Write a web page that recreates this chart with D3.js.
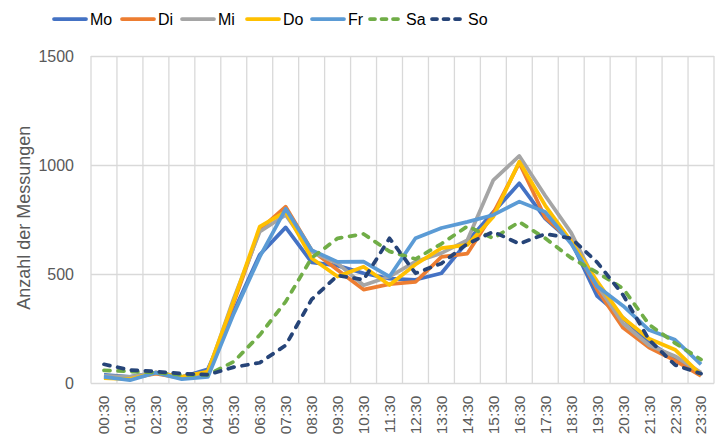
<!DOCTYPE html>
<html>
<head>
<meta charset="utf-8">
<script src="https://cdn.jsdelivr.net/npm/d3@7"></script>
<style>
  body { margin: 0; background: #fff; }
  svg { display: block; font-family: 'Liberation Sans', Arial, sans-serif; }
</style>
</head>
<body>
<svg id="chart"></svg>
<script>
const hours = ['00:30', '01:30', '02:30', '03:30', '04:30', '05:30', '06:30', '07:30', '08:30', '09:30', '10:30', '11:30',
  '12:30', '13:30', '14:30', '15:30', '16:30', '17:30', '18:30', '19:30', '20:30', '21:30', '22:30', '23:30']

const mo = [40, 30, 50, 30, 65, 330, 590, 715, 555, 540, 505, 480, 475, 505, 650, 785, 917, 755, 650, 400, 300, 190, 110, 45]
const di = [30, 25, 45, 25, 50, 370, 705, 810, 611, 520, 430, 455, 465, 580, 595, 780, 1010, 760, 655, 430, 255, 165, 105, 35]
const mi = [35, 30, 50, 30, 50, 390, 695, 772, 603, 550, 450, 490, 558, 597, 657, 932, 1042, 860, 690, 450, 275, 175, 125, 50]
const dO = [25, 20, 50, 30, 55, 380, 718, 787, 574, 490, 535, 451, 545, 620, 635, 764, 1016, 815, 650, 468, 300, 205, 155, 40]
const fr = [30, 15, 50, 20, 30, 320, 580, 800, 611, 557, 558, 490, 665, 712, 740, 772, 833, 785, 640, 445, 355, 245, 200, 88]
const sa = [60, 55, 50, 40, 40, 100, 222, 375, 575, 665, 685, 605, 570, 640, 720, 665, 740, 665, 575, 508, 435, 270, 185, 110]
const so = [88, 62, 55, 45, 40, 75, 95, 175, 385, 495, 475, 665, 505, 550, 640, 695, 640, 685, 665, 555, 405, 200, 85, 45]

const yTicks = [0, 500, 1000, 1500]

const series = [
  { name: 'Mo', values: mo, color: '#4472C4', dash: null },
  { name: 'Di', values: di, color: '#ED7D31', dash: null },
  { name: 'Mi', values: mi, color: '#A5A5A5', dash: null },
  { name: 'Do', values: dO, color: '#FFC000', dash: null },
  { name: 'Fr', values: fr, color: '#5B9BD5', dash: null },
  { name: 'Sa', values: sa, color: '#70AD47', dash: '6,8' },
  { name: 'So', values: so, color: '#264478', dash: '6,8' }
]

// MARGIN CONVENTION
const totalWidth = 716,
  totalHeight = 441,
  margin = { left: 91, top: 56, right: 2, bottom: 57.5 },
  width = totalWidth - margin.left - margin.right,
  height = totalHeight - margin.top - margin.bottom

const svg = d3.select('#chart')
  .attr('width', totalWidth)
  .attr('height', totalHeight)

const x = d3.scaleBand()
  .domain(hours)
  .range([0, width])

const y = d3.scaleLinear()
  .domain([0, 1500])
  .range([height, 0])

const plot = svg.append('g')
  .attr('transform', `translate(${margin.left}, ${margin.top})`)

// GRIDLINES
plot.append('g')
  .selectAll('line')
  .data(yTicks.filter(d => d > 0))
  .enter()
  .append('line')
    .attr('x1', 0)
    .attr('x2', width)
    .attr('y1', d => Math.round(y(d)) + 0.5)
    .attr('y2', d => Math.round(y(d)) + 0.5)
    .style('stroke', '#d9d9d9')
    .style('stroke-width', 1.3)

plot.append('g')
  .selectAll('line')
  .data(hours.concat(['end']))
  .enter()
  .append('line')
    .attr('x1', (d, i) => i * x.step())
    .attr('x2', (d, i) => i * x.step())
    .attr('y1', 0)
    .attr('y2', height)
    .style('stroke', '#d9d9d9')
    .style('stroke-width', 1.3)

// X AXIS LINE
plot.append('line')
  .attr('x1', 0)
  .attr('x2', width)
  .attr('y1', height)
  .attr('y2', height)
  .style('stroke', '#d9d9d9')
  .style('stroke-width', 1.3)

// Y TICK LABELS
plot.append('g')
  .selectAll('text')
  .data(yTicks)
  .enter()
  .append('text')
    .attr('x', -17)
    .attr('y', d => y(d))
    .attr('dy', '0.35em')
    .attr('text-anchor', 'end')
    .style('font-size', '16px')
    .style('fill', '#595959')
    .text(d => d)

// X TICK LABELS
plot.append('g')
  .selectAll('text')
  .data(hours)
  .enter()
  .append('text')
    .attr('transform', d => `translate(${x(d) + x.bandwidth() / 2}, ${height + 12}) rotate(-90)`)
    .attr('dy', '0.35em')
    .attr('text-anchor', 'end')
    .style('font-size', '15.5px')
    .style('fill', '#595959')
    .text(d => d)

// Y AXIS TITLE
svg.append('text')
  .attr('transform', `translate(24, ${margin.top + height / 2 - 2}) rotate(-90)`)
  .attr('dy', '0.35em')
  .attr('text-anchor', 'middle')
  .style('font-size', '18px')
  .style('fill', '#595959')
  .text('Anzahl der Messungen')

// LINES
const line = d3.line()
  .x((d, i) => x(hours[i]) + x.bandwidth() / 2)
  .y(d => y(d))

plot.append('g')
  .selectAll('path')
  .data(series)
  .enter()
  .append('path')
    .attr('d', d => line(d.values))
    .style('fill', 'none')
    .style('stroke', d => d.color)
    .style('stroke-width', 3.75)
    .style('stroke-linejoin', 'round')
    .style('stroke-linecap', d => d.dash ? 'round' : 'butt')
    .style('stroke-dasharray', d => d.dash)

// LEGEND
const legendX = [53, 121, 181, 246, 311, 369, 431]
const legend = svg.append('g')
  .selectAll('g')
  .data(series)
  .enter()
  .append('g')
    .attr('transform', (d, i) => `translate(${legendX[i]}, 19)`)

legend.append('line')
  .attr('x1', 1)
  .attr('x2', 33)
  .attr('y1', 0)
  .attr('y2', 0)
  .style('stroke', d => d.color)
  .style('stroke-width', 3.75)
  .style('stroke-linecap', 'round')
  .style('stroke-dasharray', d => d.dash ? '5,6.5' : null)

legend.append('text')
  .attr('x', 37)
  .attr('y', 0)
  .attr('dy', '0.35em')
  .style('font-size', '16px')
  .style('fill', '#000')
  .text(d => d.name)
</script>
</body>
</html>
